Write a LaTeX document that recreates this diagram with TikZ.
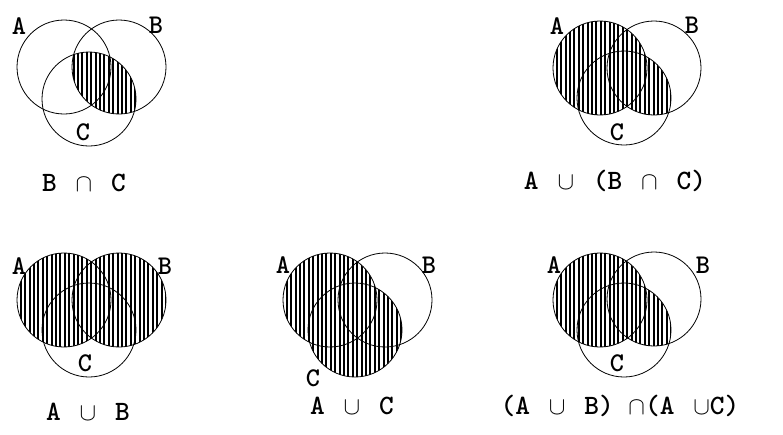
\documentclass[tikz,border=0pt]{standalone}
\usepackage{tikz}

\begin{document}
\begin{tikzpicture}[x=1pt,y=-1pt,
      ring/.style={draw=black, line width=0.8pt},
      hatch/.style={path picture={
          \foreach \hx in {-52,-47.6,...,112}
              \draw[line width=1.9pt] (\hx,-60) -- (\hx,95);
      }},
      setlbl/.style={font=\fontsize{27}{31}\selectfont\ttfamily\bfseries, inner sep=0pt},
      formula/.style={font=\fontsize{28}{32}\selectfont\ttfamily\bfseries, inner sep=0pt}
  ]
  \useasboundingbox (0,0) rectangle (783,434);

  % B cap C
  \begin{scope}[shift={(64,67)}]
  \coordinate (A1) at (0,0);
  \coordinate (B1) at (55,0);
  \coordinate (C1) at (25,32);
  \begin{scope}
  \clip (B1) circle[radius=47pt];
  \path[hatch] (C1) circle[radius=47pt];
  \end{scope}
  \draw[ring] (A1) circle[radius=47pt];
  \draw[ring] (B1) circle[radius=47pt];
  \draw[ring] (C1) circle[radius=47pt];
  \node[setlbl] (la1) at (-45,-41) {A};
  \node[setlbl] (lb1) at (92,-42) {B};
  \node[setlbl] (lc1) at (19,65) {C};
  \node[formula] (f1) at (20,116) {B $\,\cap\,$ C};
  \end{scope}

  % A cup (B cap C)
  \begin{scope}[shift={(600,68)}]
  \coordinate (A2) at (0,0);
  \coordinate (B2) at (54,0);
  \coordinate (C2) at (24,30);
  \path[hatch] (A2) circle[radius=47pt];
  \begin{scope}
  \clip (B2) circle[radius=47pt];
  \path[hatch] (C2) circle[radius=47pt];
  \end{scope}
  \draw[ring] (A2) circle[radius=47pt];
  \draw[ring] (B2) circle[radius=47pt];
  \draw[ring] (C2) circle[radius=47pt];
  \node[setlbl] (la2) at (-43,-42) {A};
  \node[setlbl] (lb2) at (92,-43) {B};
  \node[setlbl] (lc2) at (17,64) {C};
  \node[formula] (f2) at (15,113) {A $\,\cup\,$ (B $\,\cap\,$ C)};
  \end{scope}

  % A cup B
  \begin{scope}[shift={(64,300)}]
  \coordinate (A3) at (0,0);
  \coordinate (B3) at (55,0);
  \coordinate (C3) at (25,30);
  \path[hatch] (A3) circle[radius=47pt];
  \path[hatch] (B3) circle[radius=47pt];
  \draw[ring] (A3) circle[radius=47pt];
  \draw[ring] (B3) circle[radius=47pt];
  \draw[ring] (C3) circle[radius=47pt];
  \node[setlbl] (la3) at (-45,-34) {A};
  \node[setlbl] (lb3) at (101,-34) {B};
  \node[setlbl] (lc3) at (21,63) {C};
  \node[formula] (f3) at (24,112) {A $\,\cup\,$ B};
  \end{scope}

  % A cup C
  \begin{scope}[shift={(330,300)}]
  \coordinate (A4) at (0,0);
  \coordinate (B4) at (55,0);
  \coordinate (C4) at (25,30);
  \path[hatch] (A4) circle[radius=47pt];
  \path[hatch] (C4) circle[radius=47pt];
  \draw[ring] (A4) circle[radius=47pt];
  \draw[ring] (B4) circle[radius=47pt];
  \draw[ring] (C4) circle[radius=47pt];
  \node[setlbl] (la4) at (-47,-35) {A};
  \node[setlbl] (lb4) at (99,-35) {B};
  \node[setlbl] (lc4) at (-17,78) {C};
  \node[formula] (f4) at (22,106) {A $\,\cup\,$ C};
  \end{scope}

  % (A cup B) cap (A cup C)
  \begin{scope}[shift={(600,300)}]
  \coordinate (A5) at (0,0);
  \coordinate (B5) at (54,-1);
  \coordinate (C5) at (24,30);
  \path[hatch] (A5) circle[radius=47pt];
  \begin{scope}
  \clip (B5) circle[radius=47pt];
  \path[hatch] (C5) circle[radius=47pt];
  \end{scope}
  \draw[ring] (A5) circle[radius=47pt];
  \draw[ring] (B5) circle[radius=47pt];
  \draw[ring] (C5) circle[radius=47pt];
  \node[setlbl] (la5) at (-46,-35) {A};
  \node[setlbl] (lb5) at (103,-35) {B};
  \node[setlbl] (lc5) at (17,63) {C};
  \node[formula] (f5) at (20,106) {(A $\,\cup\,$ B) $\cap$(A $\,\cup$C)};
  \end{scope}
\end{tikzpicture}
\end{document}
